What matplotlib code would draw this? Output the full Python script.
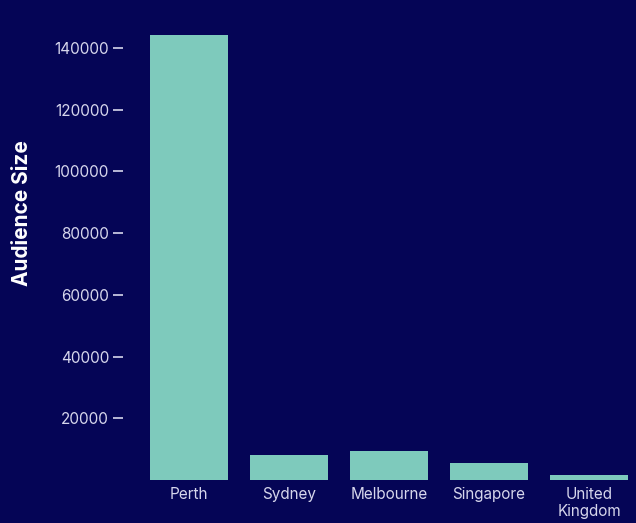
import matplotlib
matplotlib.use("Agg")
import matplotlib.pyplot as plt

categories = ["Perth", "Sydney", "Melbourne", "Singapore", "United\nKingdom"]
audience = [144200, 8100, 9400, 5500, 1600]
yticks = [20000, 40000, 60000, 80000, 100000, 120000, 140000]

bg = "#050556"
bar_color = "#7ecabc"
text_color = "#d6d6ec"

plt.rcParams['font.family'] = ['Inter', 'DejaVu Sans']

fig = plt.figure(figsize=(6.36, 5.23), dpi=100, facecolor=bg)
W, H = 636, 523
left, right, top, bottom = 123, 636, 35, 480
ax = fig.add_axes([left / W, 1 - bottom / H, (right - left) / W, (bottom - top) / H])
ax.set_facecolor(bg)

x = list(range(len(categories)))
ax.bar(x, audience, width=0.78, color=bar_color)
ax.set_xlim(-0.66, 4.47)
ax.set_ylim(0, max(audience))

for s in ax.spines.values():
    s.set_visible(False)

ax.set_yticks(yticks)
ax.set_yticklabels([str(v) for v in yticks])
ax.tick_params(axis='y', length=7, width=1.2, color=text_color, pad=3,
               labelsize=11, labelcolor=text_color, direction='out')
ax.set_xticks(x)
ax.set_xticklabels(categories, linespacing=1.15)
ax.tick_params(axis='x', length=0, pad=5, labelsize=11, labelcolor=text_color)

fig.text(22 / W, 1 - 213 / H, "Audience Size", rotation=90, color="white",
         fontsize=15, fontweight='bold', ha='center', va='center')

fig.savefig("out.png", dpi=100, facecolor=bg)
